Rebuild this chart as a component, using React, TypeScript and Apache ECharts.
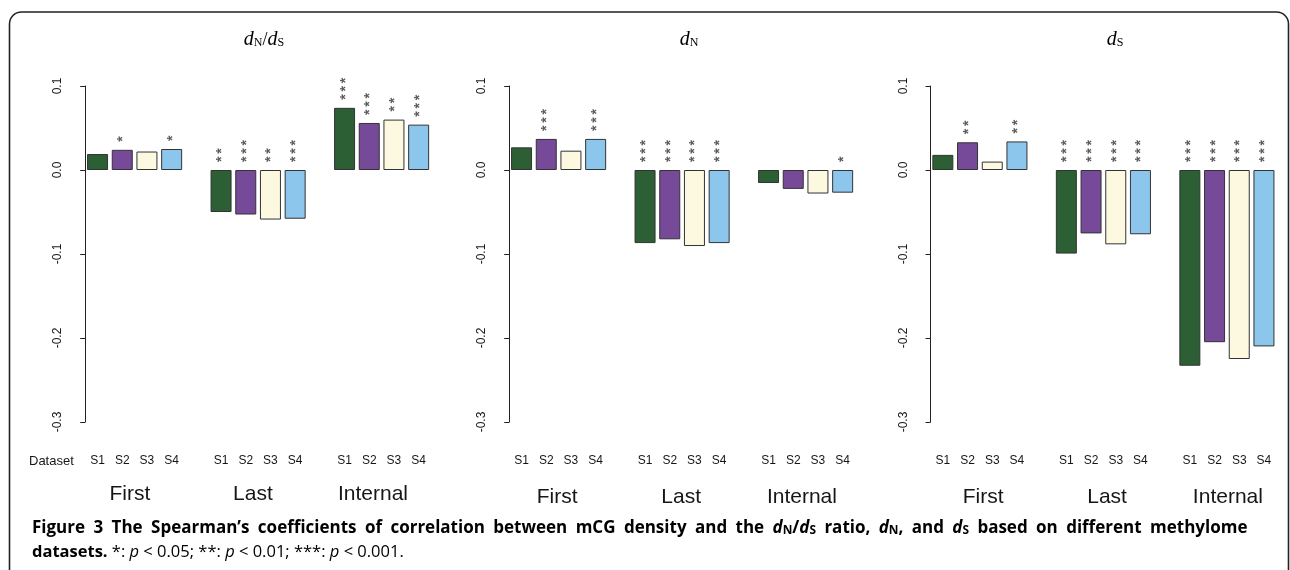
import React, { useEffect, useRef } from "react";
import * as echarts from "echarts";

const datasets = ["S1", "S2", "S3", "S4"];
const groups = ["First", "Last", "Internal"];
const seriesColors = ["#2c5f34", "#764a99", "#fcf9e0", "#8cc6ec"];

// values ordered First S1..S4, Last S1..S4, Internal S1..S4
const dndsValues = [0.019, 0.024, 0.022, 0.025, -0.05, -0.053, -0.059, -0.058, 0.074, 0.056, 0.06, 0.054];
const dndsStars = [0, 1, 0, 1, 2, 3, 2, 3, 3, 3, 2, 3];
const dnValues = [0.027, 0.037, 0.023, 0.037, -0.087, -0.0825, -0.0905, -0.087, -0.0155, -0.0225, -0.028, -0.027];
const dnStars = [0, 3, 0, 3, 3, 3, 3, 3, 0, 0, 0, 1];
const dsValues = [0.018, 0.033, 0.01, 0.034, -0.0995, -0.0755, -0.0885, -0.0765, -0.233, -0.205, -0.225, -0.21];
const dsStars = [0, 2, 0, 2, 3, 3, 3, 3, 3, 3, 3, 3];

const SANS = "'Liberation Sans', Arial, sans-serif";
const SERIF = "'Liberation Serif', 'Times New Roman', serif";
const CAP = "'Open Sans', 'Noto Sans', sans-serif";
const INK = "#161616";

// caption words, each a list of [style, text] pieces
const captionLine1: [string, string][][] = [
  [["b", "Figure"]], [["b", "3"]], [["b", "The"]], [["b", "Spearman\u2019s"]], [["b", "coefficients"]], [["b", "of"]],
  [["b", "correlation"]], [["b", "between"]], [["b", "mCG"]], [["b", "density"]], [["b", "and"]], [["b", "the"]],
  [["bi", "d"], ["bs", "N"], ["b", "/"], ["bi", "d"], ["bs", "S"]], [["b", "ratio,"]],
  [["bi", "d"], ["bs", "N"], ["b", ","]], [["b", "and"]], [["bi", "d"], ["bs", "S"]],
  [["b", "based"]], [["b", "on"]], [["b", "different"]], [["b", "methylome"]],
];

export default function App() {
  const ref = useRef<HTMLDivElement>(null);
  useEffect(() => {
    document.body.style.margin = "0";
    const chart = echarts.init(ref.current!, null, { renderer: "svg" });

    const slotW = 24.7;
    const nSlots = 14;
    const panels = [
      { values: dndsValues, stars: dndsStars, left: 85.2, groupMargin: 60, groupPos: [1.81, 6.79, 11.65], title: "{i|d}{s|N}{n|/}{i|d}{s|S}", tx: 264 },
      { values: dnValues, stars: dnStars, left: 509.2, groupMargin: 63, groupPos: [1.94, 6.96, 11.85], title: "{i|d}{s|N}", tx: 689 },
      { values: dsValues, stars: dsStars, left: 930.5, groupMargin: 63, groupPos: [2.13, 7.15, 12.04], title: "{i|d}{s|S}", tx: 1115 },
    ];

    const catData: string[] = [];
    const slotOf: number[] = [];
    groups.forEach((g, gi) => {
      datasets.forEach((d) => {
        slotOf.push(catData.length);
        catData.push(d);
      });
      if (gi < groups.length - 1) catData.push("");
    });

    const grids: any[] = [];
    const xAxes: any[] = [];
    const yAxes: any[] = [];
    const series: any[] = [];
    const graphics: any[] = [];

    panels.forEach((p, pi) => {
      grids.push({ left: p.left, top: 86, width: slotW * nSlots, height: 336, containLabel: false });
      xAxes.push({
        type: "category",
        gridIndex: pi,
        data: catData,
        axisLine: { show: false },
        axisTick: { show: false },
        axisLabel: { interval: 0, margin: 32, fontSize: 12, color: INK, fontFamily: SANS },
        splitLine: { show: false },
      });
      xAxes.push({
        type: "value",
        gridIndex: pi,
        position: "bottom",
        min: 0,
        max: nSlots,
        axisLine: { show: false },
        axisTick: { show: false },
        splitLine: { show: false },
        axisLabel: {
          customValues: p.groupPos,
          formatter: (v: number) => groups[Math.round((v - 2) / 5)] ?? "",
          margin: p.groupMargin,
          fontSize: 21,
          color: INK,
          fontFamily: SANS,
        },
      });
      yAxes.push({
        type: "value",
        gridIndex: pi,
        min: -0.3,
        max: 0.1,
        interval: 0.1,
        offset: 12,
        axisLine: { show: true, lineStyle: { color: "#222", width: 1 } },
        axisTick: { show: true, length: 5, lineStyle: { color: "#222" } },
        splitLine: { show: false },
        axisLabel: {
          rotate: 90,
          margin: 10,
          fontSize: 12,
          color: INK,
          fontFamily: SANS,
          formatter: (v: number) => (Math.abs(v) < 1e-9 ? "0.0" : v.toFixed(1)),
        },
      });

      const barData: any[] = catData.map(() => "-");
      const starData: any[] = [];
      p.values.forEach((v, i) => {
        const slot = slotOf[i];
        barData[slot] = {
          value: v,
          itemStyle: { color: seriesColors[i % 4], borderColor: "#333", borderWidth: 1 },
        };
        if (p.stars[i] > 0) {
          starData.push({ value: [slot, Math.max(0, v)], n: p.stars[i] });
        }
      });
      series.push({
        type: "bar",
        xAxisIndex: pi * 2,
        yAxisIndex: pi,
        barWidth: 21,
        data: barData,
      });
      series.push({
        type: "scatter",
        xAxisIndex: pi * 2,
        yAxisIndex: pi,
        symbolSize: 0,
        itemStyle: { color: "rgba(0,0,0,0)" },
        data: starData,
        label: {
          show: true,
          position: "top",
          distance: 5,
          rotate: 90,
          align: "left",
          verticalAlign: "middle",
          offset: [3, 0],
          fontSize: 14,
          fontWeight: "bold",
          color: "#333",
          fontFamily: SANS,
          formatter: (prm: any) => Array(prm.data.n).fill("*").join("\u2009"),
        },
      });

      graphics.push({
        type: "text",
        x: p.tx,
        y: 38,
        style: {
          text: p.title,
          align: "center",
          verticalAlign: "middle",
          rich: {
            i: { fontFamily: SERIF, fontStyle: "italic", fontSize: 20, color: INK, verticalAlign: "bottom", lineHeight: 20 },
            s: { fontFamily: SERIF, fontSize: 12, color: INK, verticalAlign: "bottom", lineHeight: 16 },
            n: { fontFamily: SERIF, fontSize: 18, color: INK, verticalAlign: "bottom", lineHeight: 20 },
          },
        },
      });
    });

    graphics.push({
      type: "rect",
      shape: { x: 9.5, y: 12, width: 1279, height: 620, r: 12 },
      style: { fill: "none", stroke: "#222", lineWidth: 1.6 },
    });
    graphics.push({
      type: "text",
      x: 29,
      y: 460,
      style: { text: "Dataset", fontSize: 13, fontFamily: SANS, fill: INK, verticalAlign: "middle" },
    });

    const mkRich = (fs: number, gap: number) => ({
      b: { fontFamily: CAP, fontWeight: "bold", fontSize: fs, color: "#222", verticalAlign: "bottom", lineHeight: 22 },
      bi: { fontFamily: CAP, fontWeight: "bold", fontStyle: "italic", fontSize: fs, color: "#222", verticalAlign: "bottom", lineHeight: 22 },
      bs: { fontFamily: CAP, fontWeight: "bold", fontSize: fs * 0.7, color: "#222", verticalAlign: "bottom", lineHeight: 13 },
      g: { fontFamily: CAP, fontWeight: "bold", fontSize: fs, width: gap, verticalAlign: "bottom", lineHeight: 22 },
      r: { fontFamily: CAP, fontSize: fs, color: "#222", verticalAlign: "bottom", lineHeight: 22 },
      ri: { fontFamily: CAP, fontStyle: "italic", fontSize: fs, color: "#222", verticalAlign: "bottom", lineHeight: 22 },
    });
    const line1 = captionLine1
      .map((w) => w.map(([s, t]) => `{${s}|${t}}`).join(""))
      .join("{g| }");
    graphics.push({
      type: "text",
      x: 32,
      y: 524,
      style: { text: line1, verticalAlign: "middle", rich: mkRich(17, 8.4) },
    });
    graphics.push({
      type: "text",
      x: 32,
      y: 548,
      style: {
        text: "{b|datasets.}{r| *: }{ri|p}{r| < 0.05; **: }{ri|p}{r| < 0.01; ***: }{ri|p}{r| < 0.001.}",
        verticalAlign: "middle",
        rich: mkRich(16.5, 5),
      },
    });

    chart.setOption({
      animation: false,
      backgroundColor: "#ffffff",
      grid: grids,
      xAxis: xAxes,
      yAxis: yAxes,
      series,
      graphic: graphics,
    });
    return () => chart.dispose();
  }, []);
  return (
    <div
      ref={ref}
      style={{ position: "absolute", left: 0, top: 0, width: 1290, height: 570, willChange: "transform" }}
    />
  );
}
